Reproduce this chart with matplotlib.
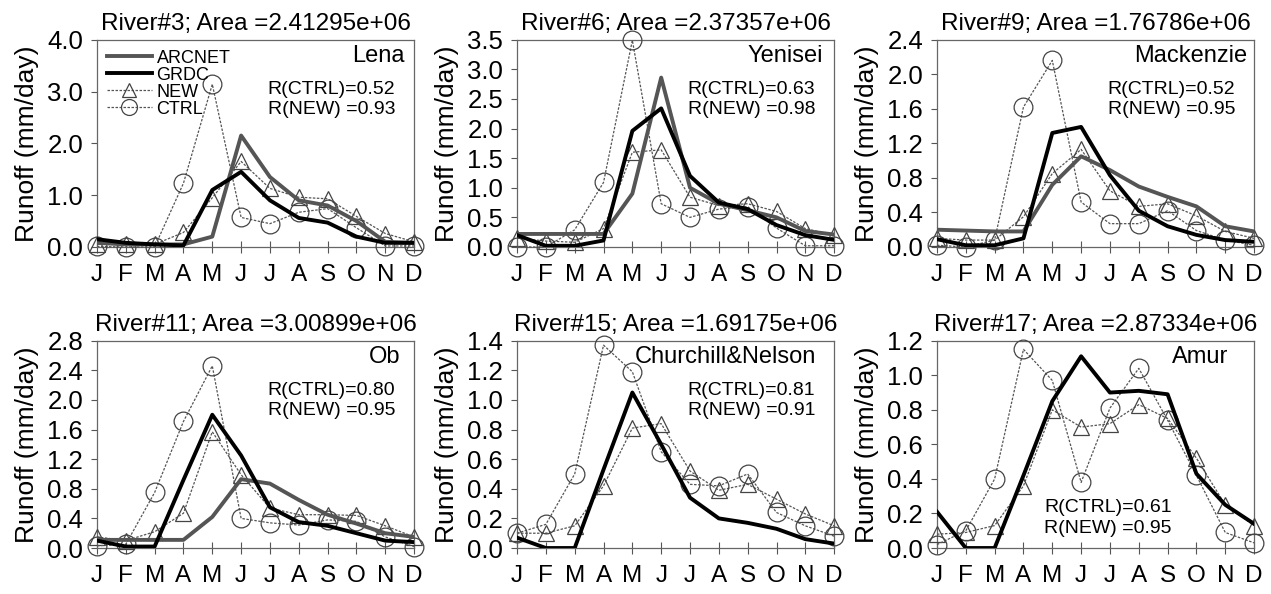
import numpy as np
import matplotlib
matplotlib.use("Agg")
import matplotlib.pyplot as plt

plt.rcParams['font.family'] = ['Liberation Sans', 'DejaVu Sans']

months = ["J", "F", "M", "A", "M", "J", "J", "A", "S", "O", "N", "D"]

titles = ["River#3; Area =2.41295e+06", "River#6; Area =2.37357e+06",
          "River#9; Area =1.76786e+06", "River#11; Area =3.00899e+06",
          "River#15; Area =1.69175e+06", "River#17; Area =2.87334e+06"]
rivers = ["Lena", "Yenisei", "Mackenzie", "Ob", "Churchill&Nelson", "Amur"]
r_ctrl = ["0.52", "0.63", "0.52", "0.80", "0.81", "0.61"]
r_new = ["0.93", "0.98", "0.95", "0.95", "0.91", "0.95"]
y_max = [4.0, 3.5, 2.4, 2.8, 1.4, 1.2]
y_step = [1.0, 0.5, 0.4, 0.4, 0.2, 0.2]

# ==============================
# monthly runoff (mm/day)
# ==============================
lena_arcnet = [0.08, 0.05, 0.05, 0.05, 0.20, 2.15, 1.35, 0.90, 0.80, 0.50, 0.10, 0.08]
lena_grdc = [0.15, 0.08, 0.05, 0.03, 1.10, 1.45, 0.90, 0.56, 0.47, 0.20, 0.08, 0.08]
lena_new = [0.05, 0.05, 0.05, 0.28, 0.95, 1.65, 1.13, 0.96, 0.93, 0.59, 0.26, 0.10]
lena_ctrl = [0.01, 0.00, 0.00, 1.23, 3.14, 0.57, 0.45, 0.67, 0.74, 0.37, 0.02, 0.02]

yenisei_arcnet = [0.22, 0.22, 0.22, 0.22, 0.90, 2.86, 1.00, 0.73, 0.62, 0.50, 0.27, 0.21]
yenisei_grdc = [0.20, 0.02, 0.02, 0.11, 1.96, 2.34, 1.20, 0.75, 0.64, 0.37, 0.20, 0.12]
yenisei_new = [0.15, 0.10, 0.08, 0.31, 1.60, 1.64, 0.84, 0.70, 0.73, 0.60, 0.31, 0.20]
yenisei_ctrl = [0.00, 0.00, 0.29, 1.09, 3.49, 0.73, 0.50, 0.64, 0.68, 0.32, 0.02, 0.02]

mack_arcnet = [0.20, 0.19, 0.18, 0.18, 0.72, 1.05, 0.89, 0.70, 0.58, 0.47, 0.24, 0.18]
mack_grdc = [0.09, 0.02, 0.02, 0.10, 1.32, 1.39, 0.83, 0.42, 0.24, 0.14, 0.08, 0.06]
mack_new = [0.10, 0.08, 0.08, 0.35, 0.85, 1.13, 0.65, 0.47, 0.50, 0.36, 0.18, 0.10]
mack_ctrl = [0.02, 0.00, 0.08, 1.62, 2.16, 0.52, 0.27, 0.27, 0.42, 0.19, 0.08, 0.02]

ob_arcnet = [0.11, 0.11, 0.11, 0.11, 0.42, 0.93, 0.87, 0.65, 0.45, 0.33, 0.20, 0.15]
ob_grdc = [0.10, 0.02, 0.02, 0.92, 1.80, 1.25, 0.55, 0.35, 0.30, 0.20, 0.10, 0.08]
ob_new = [0.15, 0.10, 0.22, 0.47, 1.57, 0.99, 0.54, 0.45, 0.45, 0.44, 0.30, 0.15]
ob_ctrl = [0.03, 0.05, 0.75, 1.71, 2.46, 0.40, 0.34, 0.31, 0.38, 0.36, 0.15, 0.02]

cn_grdc = [0.07, 0.00, 0.00, 0.53, 1.05, 0.70, 0.34, 0.20, 0.17, 0.13, 0.06, 0.03]
cn_new = [0.10, 0.10, 0.15, 0.42, 0.81, 0.84, 0.52, 0.39, 0.43, 0.33, 0.23, 0.15]
cn_ctrl = [0.10, 0.16, 0.50, 1.37, 1.19, 0.65, 0.43, 0.42, 0.50, 0.24, 0.15, 0.08]

amur_grdc = [0.21, 0.00, 0.00, 0.42, 0.85, 1.11, 0.90, 0.91, 0.89, 0.43, 0.25, 0.14]
amur_new = [0.08, 0.09, 0.13, 0.36, 0.80, 0.70, 0.72, 0.83, 0.75, 0.52, 0.25, 0.13]
amur_ctrl = [0.02, 0.10, 0.40, 1.15, 0.97, 0.38, 0.81, 1.04, 0.74, 0.42, 0.09, 0.03]

arcnet = [lena_arcnet, yenisei_arcnet, mack_arcnet, ob_arcnet, None, None]
grdc = [lena_grdc, yenisei_grdc, mack_grdc, ob_grdc, cn_grdc, amur_grdc]
new = [lena_new, yenisei_new, mack_new, ob_new, cn_new, amur_new]
ctrl = [lena_ctrl, yenisei_ctrl, mack_ctrl, ob_ctrl, cn_ctrl, amur_ctrl]

# where the river name sits (axes fraction, right aligned)
name_x = [0.97, 0.965, 0.977, 0.956, 0.943, 0.92]

fig = plt.figure(figsize=(12.71, 5.94), dpi=100)

lefts = [0.0763, 0.4068, 0.7372]
bottoms = [0.5842, 0.0774]
w, h = 0.2495, 0.349

x = np.arange(12)
dash = (0, (2.0, 1.2))

for i in range(6):
    ax = fig.add_axes([lefts[i % 3], bottoms[i // 3], w, h])
    if arcnet[i] is not None:
        ax.plot(x, arcnet[i], color="#555555", lw=2.8, label="ARCNET", zorder=4)
    ax.plot(x, grdc[i], color="black", lw=2.8, label="GRDC", zorder=5)
    ax.plot(x, new[i], color="#555555", lw=0.9, ls=dash, marker="^", ms=11.5,
            mfc="none", mec="#444444", mew=0.9, label="NEW", zorder=3, clip_on=False)
    ax.plot(x, ctrl[i], color="#555555", lw=0.9, ls=dash, marker="o", ms=13.5,
            mfc="none", mec="#444444", mew=0.9, label="CTRL", zorder=3, clip_on=False)

    ax.set_xlim(0, 11)
    ax.set_ylim(0, y_max[i])
    ax.set_xticks(x)
    ax.set_xticklabels(months)
    yt = np.arange(0, y_max[i] + 1e-6, y_step[i])
    ax.set_yticks(yt)
    ax.set_yticklabels([f"{v:.1f}" for v in yt])
    ax.tick_params(axis="x", direction="inout", length=8, width=0.8, pad=8,
                   labelsize=17.5, color="#555555")
    ax.tick_params(axis="y", direction="out", length=4, width=0.8, pad=6,
                   labelsize=18.5, color="#555555")
    for s in ax.spines.values():
        s.set_color("#666666")
        s.set_linewidth(0.9)

    ax.set_title(titles[i], fontsize=17.5, pad=7)
    ax.set_ylabel("Runoff (mm/day)", fontsize=19, labelpad=6)

    ax.text(name_x[i], 0.92, rivers[i], transform=ax.transAxes, ha="right",
            va="center", fontsize=17)
    if i == 5:
        rx, ry1, ry2, ha = 0.54, 0.195, 0.095, "center"
    else:
        rx, ry1, ry2, ha = 0.94, 0.76, 0.665, "right"
    ax.text(rx, ry1, "R(CTRL)=" + r_ctrl[i], transform=ax.transAxes, ha=ha,
            va="center", fontsize=14)
    ax.text(rx, ry2, "R(NEW) =" + r_new[i], transform=ax.transAxes, ha=ha,
            va="center", fontsize=14)

    if i == 0:
        leg = ax.legend(loc="upper left", frameon=False, fontsize=13,
                        handlelength=2.5, handletextpad=0.25, labelspacing=0.0,
                        borderaxespad=0.25, borderpad=0.3, markerscale=0.85)

fig.savefig("out.png", dpi=100)
